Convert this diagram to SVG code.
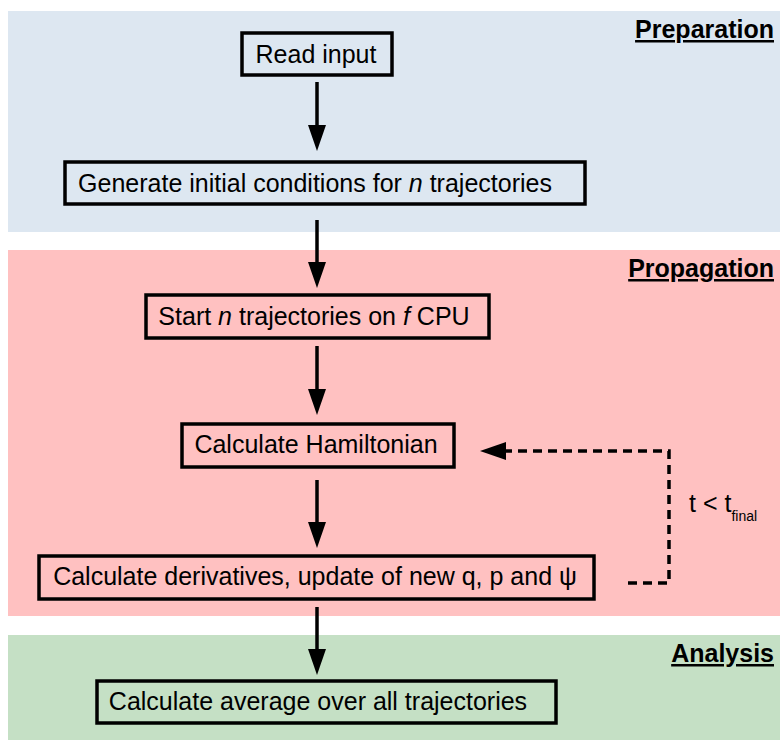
<svg xmlns="http://www.w3.org/2000/svg" width="780" height="740" viewBox="0 0 780 740">
<defs>
<style>
.band-title{font-family:"Liberation Sans",Arial,sans-serif;font-size:25px;font-weight:bold;fill:#000;text-decoration:underline;text-anchor:end}
.node rect{fill:none;stroke:#000;stroke-width:3.5}
.node text{font-family:"Liberation Sans",Arial,sans-serif;font-size:25px;fill:#000;text-anchor:middle}
.conn{fill:none;stroke:#000;stroke-width:3.5}
.dash{stroke-dasharray:9 6}
.lbl{font-family:"Liberation Sans",Arial,sans-serif;fill:#000}
</style>
<marker id="ah" markerUnits="userSpaceOnUse" markerWidth="26" markerHeight="18" refX="0" refY="9" orient="auto" viewBox="0 0 26 18">
<path d="M0,0 L26,9 L0,18 Z" fill="#000"/>
</marker>
</defs>
<rect width="780" height="740" fill="#fff"/>
<g id="bands">
<rect x="8" y="11" width="772" height="221" fill="#dde7f1"/>
<rect x="8" y="250" width="772" height="366" fill="#ffc1c1"/>
<rect x="8" y="635" width="772" height="105" fill="#c5e0c5"/>
<text class="band-title" x="774" y="38">Preparation</text>
<text class="band-title" x="774" y="277">Propagation</text>
<text class="band-title" x="774" y="662">Analysis</text>
</g>
<g id="connectors">
<path class="conn" d="M317,82 V125" marker-end="url(#ah)"/>
<path class="conn" d="M317,220 V262" marker-end="url(#ah)"/>
<path class="conn" d="M317,346 V389" marker-end="url(#ah)"/>
<path class="conn" d="M317,480 V522" marker-end="url(#ah)"/>
<path class="conn" d="M317,607 V649" marker-end="url(#ah)"/>
<path class="conn dash" d="M628,583 H669 V451 H506" marker-end="url(#ah)"/>
<text class="lbl" x="689" y="512" font-size="25">t &lt; t<tspan font-size="14" dy="9">final</tspan></text>
</g>
<g id="n1" class="node">
<rect x="242" y="33" width="150" height="42"/>
<text x="316" y="63">Read input</text>
</g>
<g id="n2" class="node">
<rect x="65" y="162" width="520" height="42"/>
<text x="315" y="192">Generate initial conditions for <tspan font-style="italic">n</tspan> trajectories</text>
</g>
<g id="n3" class="node">
<rect x="146" y="295" width="343" height="43"/>
<text x="314" y="325">Start <tspan font-style="italic">n</tspan> trajectories on <tspan font-style="italic">f</tspan> CPU</text>
</g>
<g id="n4" class="node">
<rect x="182" y="424" width="272" height="43"/>
<text x="316" y="453">Calculate Hamiltonian</text>
</g>
<g id="n5" class="node">
<rect x="39" y="556" width="555" height="43"/>
<text x="315" y="585">Calculate derivatives, update of new q, p and ψ</text>
</g>
<g id="n6" class="node">
<rect x="97" y="681" width="459" height="42"/>
<text x="318" y="710">Calculate average over all trajectories</text>
</g>
</svg>
